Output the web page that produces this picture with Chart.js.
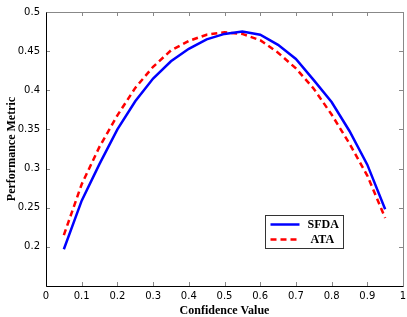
<!DOCTYPE html>
<html>
<head>
<meta charset="utf-8">
<script src="https://cdn.jsdelivr.net/npm/chart.js@4/dist/chart.umd.min.js"></script>
<style>
html,body{margin:0;padding:0;background:#fff;}
#wrap{width:407px;height:317px;}
</style>
</head>
<body>
<div id="wrap"><canvas id="c" width="407" height="317"></canvas></div>
<script>
const confidence = [0.05,0.10,0.15,0.20,0.25,0.30,0.35,0.40,0.45,0.50,0.55,0.60,0.65,0.70,0.75,0.80,0.85,0.90,0.95];
const sfda = [0.197,0.259,0.306,0.350,0.386,0.415,0.437,0.453,0.465,0.472,0.475,0.471,0.458,0.440,0.413,0.385,0.348,0.305,0.248];
const ata  = [0.215,0.280,0.328,0.368,0.403,0.430,0.451,0.463,0.471,0.474,0.472,0.464,0.448,0.428,0.402,0.369,0.332,0.291,0.237];
const seriesNames = ['SFDA','ATA'];
const xTicks = [0,0.1,0.2,0.3,0.4,0.5,0.6,0.7,0.8,0.9,1];
const yTicks = [0.15,0.2,0.25,0.3,0.35,0.4,0.45,0.5];

const tickFont = {family:'DejaVu Sans', size:10};
const titleFont = {family:'Liberation Serif', size:12, weight:'bold', lineHeight:1.05};

const framePlugin = {
  id:'frame',
  afterDatasetsDraw(chart){
    const ctx = chart.ctx, a = chart.chartArea;
    const xs = chart.scales.x, ys = chart.scales.y;
    ctx.save();
    ctx.lineWidth = 1;
    ctx.strokeStyle = '#888';
    ctx.beginPath();
    xTicks.forEach(v=>{
      const px = Math.round(xs.getPixelForValue(v))+0.5;
      ctx.moveTo(px,a.bottom); ctx.lineTo(px,a.bottom-4);
      ctx.moveTo(px,a.top); ctx.lineTo(px,a.top+4);
    });
    yTicks.forEach(v=>{
      const py = Math.round(ys.getPixelForValue(v))+0.5;
      ctx.moveTo(a.left,py); ctx.lineTo(a.left+4,py);
      ctx.moveTo(a.right,py); ctx.lineTo(a.right-4,py);
    });
    ctx.stroke();
    const L = Math.round(a.left)+0.5, R = Math.round(a.right)+0.5, T = Math.round(a.top)+0.5, B = Math.round(a.bottom)+0.5;
    ctx.strokeStyle = '#888';
    ctx.beginPath(); ctx.moveTo(L,T); ctx.lineTo(R,T); ctx.lineTo(R,B); ctx.stroke();
    ctx.strokeStyle = '#000';
    ctx.beginPath(); ctx.moveTo(L,T); ctx.lineTo(L,B); ctx.lineTo(R,B); ctx.stroke();

    const w = a.right - a.left, h = a.bottom - a.top;
    const bx = Math.round(a.left + w*0.6125)+0.5, by = Math.round(a.top + h*0.742)+0.5;
    const bw = 78, bh = 33;
    ctx.fillStyle = '#fff';
    ctx.fillRect(bx,by,bw,bh);
    ctx.strokeStyle = '#333';
    ctx.strokeRect(bx,by,bw,bh);
    chart.data.datasets.forEach((ds,i)=>{
      const ly = by + 9 + i*15;
      ctx.strokeStyle = ds.borderColor;
      ctx.lineWidth = ds.borderWidth;
      ctx.setLineDash(ds.borderDash || []);
      ctx.beginPath(); ctx.moveTo(bx+5,ly); ctx.lineTo(bx+34,ly); ctx.stroke();
      ctx.setLineDash([]);
      ctx.fillStyle = '#000';
      ctx.font = 'bold 12px "Liberation Serif"';
      ctx.textBaseline = 'middle';
      ctx.textAlign = 'left';
      ctx.fillText(ds.label, bx+42 + (i===1?3:0), ly);
    });
    ctx.restore();
  }
};

new Chart(document.getElementById('c'), {
  type:'line',
  data:{
    datasets:[
      {label:seriesNames[0], data:confidence.map((x,i)=>({x, y:sfda[i]})), borderColor:'#0000ff', borderWidth:2.5, pointRadius:0, tension:0, fill:false},
      {label:seriesNames[1], data:confidence.map((x,i)=>({x, y:ata[i]})), borderColor:'#ff0000', borderWidth:2.5, borderDash:[6,4], pointRadius:0, tension:0, fill:false}
    ]
  },
  options:{
    responsive:false,
    animation:false,
    layout:{padding:{left:0,top:5,right:1,bottom:0}},
    plugins:{legend:{display:false}, tooltip:{enabled:false}},
    scales:{
      x:{
        type:'linear', min:0, max:1,
        afterBuildTicks(s){ s.ticks = xTicks.map(v=>({value:v})); },
        afterFit(s){ s.height = 31; s.paddingRight = 4; },
        grid:{display:false, drawTicks:false},
        border:{display:false},
        ticks:{font:tickFont, color:'#000', padding:4, maxRotation:0, autoSkip:false,
          callback:v=>String(Number(v.toFixed(2)))},
        title:{display:true, text:'Confidence Value', font:titleFont, color:'#000', padding:{top:0,bottom:0}}
      },
      y:{
        type:'linear', min:0.15, max:0.5,
        afterBuildTicks(s){ s.ticks = yTicks.map(v=>({value:v})); },
        afterFit(s){ s.width = 46; },
        grid:{display:false, drawTicks:false},
        border:{display:false},
        ticks:{font:tickFont, color:'#000', padding:6, autoSkip:false,
          callback:v=>(Math.abs(v-0.15)<1e-6 ? '' : String(Number(v.toFixed(2))))},
        title:{display:true, text:'Performance Metric', font:titleFont, color:'#000', padding:{top:6,bottom:0}}
      }
    }
  },
  plugins:[framePlugin]
});
</script>
</body>
</html>
